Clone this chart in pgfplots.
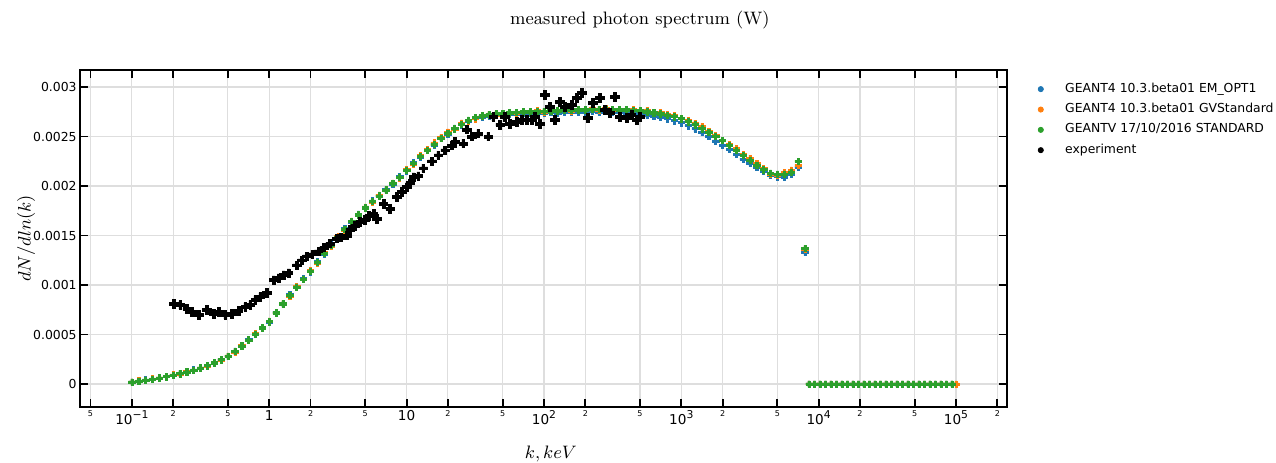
\documentclass[border=0pt]{standalone}
\usepackage{pgfplots}
\pgfplotsset{compat=1.18}
\usepackage{pgfplotstable}
\usepackage{fontspec}
\newfontfamily\vf{DejaVu Sans}
\definecolor{c1}{HTML}{1F77B4}
\definecolor{c2}{HTML}{FF7F0E}
\definecolor{c3}{HTML}{2CA02C}
\newcommand{\mn}{\fontsize{4}{4.5}\selectfont}
\newcommand{\sps}[1]{\raisebox{0.48em}{\fontsize{5.4}{6}\selectfont #1}}
\pgfdeclareplotmark{P}{%
  \pgfpathmoveto{\pgfqpoint{-0.333\pgfplotmarksize}{-\pgfplotmarksize}}%
  \pgfpathlineto{\pgfqpoint{-0.333\pgfplotmarksize}{-0.333\pgfplotmarksize}}%
  \pgfpathlineto{\pgfqpoint{-\pgfplotmarksize}{-0.333\pgfplotmarksize}}%
  \pgfpathlineto{\pgfqpoint{-\pgfplotmarksize}{0.333\pgfplotmarksize}}%
  \pgfpathlineto{\pgfqpoint{-0.333\pgfplotmarksize}{0.333\pgfplotmarksize}}%
  \pgfpathlineto{\pgfqpoint{-0.333\pgfplotmarksize}{\pgfplotmarksize}}%
  \pgfpathlineto{\pgfqpoint{0.333\pgfplotmarksize}{\pgfplotmarksize}}%
  \pgfpathlineto{\pgfqpoint{0.333\pgfplotmarksize}{0.333\pgfplotmarksize}}%
  \pgfpathlineto{\pgfqpoint{\pgfplotmarksize}{0.333\pgfplotmarksize}}%
  \pgfpathlineto{\pgfqpoint{\pgfplotmarksize}{-0.333\pgfplotmarksize}}%
  \pgfpathlineto{\pgfqpoint{0.333\pgfplotmarksize}{-0.333\pgfplotmarksize}}%
  \pgfpathlineto{\pgfqpoint{0.333\pgfplotmarksize}{-\pgfplotmarksize}}%
  \pgfpathclose
  \pgfusepathqfillstroke}

\pgfplotstableread{
x b o g
1.0000e-1 0.20e-4 0.20e-4 0.20e-4
1.1220e-1 0.29e-4 0.31e-4 0.30e-4
1.2589e-1 0.41e-4 0.40e-4 0.40e-4
1.4125e-1 0.49e-4 0.51e-4 0.50e-4
1.5849e-1 0.60e-4 0.62e-4 0.62e-4
1.7783e-1 0.76e-4 0.74e-4 0.75e-4
1.9953e-1 0.89e-4 0.92e-4 0.90e-4
2.2387e-1 1.06e-4 1.04e-4 1.05e-4
2.5119e-1 1.20e-4 1.23e-4 1.22e-4
2.8184e-1 1.42e-4 1.39e-4 1.40e-4
3.1623e-1 1.60e-4 1.63e-4 1.62e-4
3.5481e-1 1.87e-4 1.84e-4 1.86e-4
3.9811e-1 2.13e-4 2.17e-4 2.15e-4
4.4668e-1 2.48e-4 2.44e-4 2.46e-4
5.0119e-1 2.79e-4 2.83e-4 2.80e-4
5.6234e-1 3.32e-4 3.25e-4 3.28e-4
6.3096e-1 3.82e-4 3.88e-4 3.85e-4
7.0795e-1 4.50e-4 4.42e-4 4.45e-4
7.9433e-1 5.02e-4 5.10e-4 5.05e-4
8.9125e-1 5.70e-4 5.64e-4 5.68e-4
1.0000e0 6.27e-4 6.35e-4 6.30e-4
1.1220e0 7.25e-4 7.15e-4 7.20e-4
1.2589e0 8.05e-4 8.16e-4 8.10e-4
1.4125e0 9.02e-4 8.90e-4 8.95e-4
1.5849e0 9.76e-4 9.86e-4 9.80e-4
1.7783e0 10.66e-4 10.55e-4 10.60e-4
1.9953e0 11.35e-4 11.48e-4 11.40e-4
2.2387e0 12.36e-4 12.22e-4 12.30e-4
2.5119e0 13.15e-4 13.28e-4 13.20e-4
2.8184e0 14.07e-4 13.95e-4 14.00e-4
3.1623e0 14.75e-4 14.88e-4 14.80e-4
3.5481e0 15.68e-4 15.55e-4 15.60e-4
3.9811e0 16.35e-4 16.45e-4 16.40e-4
4.4668e0 17.16e-4 17.05e-4 17.10e-4
5.0119e0 17.75e-4 17.88e-4 17.80e-4
5.6234e0 18.50e-4 18.40e-4 18.45e-4
6.3096e0 18.96e-4 19.08e-4 19.00e-4
7.0795e0 19.66e-4 19.55e-4 19.60e-4
7.9433e0 20.20e-4 20.30e-4 20.25e-4
8.9125e0 20.96e-4 20.85e-4 20.90e-4
1.0000e1 21.55e-4 21.68e-4 21.60e-4
1.1220e1 22.36e-4 22.25e-4 22.30e-4
1.2589e1 22.95e-4 23.08e-4 23.00e-4
1.4125e1 23.66e-4 23.70e-4 23.60e-4
1.5849e1 24.15e-4 24.35e-4 24.20e-4
1.7783e1 24.85e-4 24.90e-4 24.80e-4
1.9953e1 25.25e-4 25.45e-4 25.30e-4
2.2387e1 25.85e-4 25.75e-4 25.80e-4
2.5119e1 26.20e-4 26.35e-4 26.25e-4
2.8184e1 26.55e-4 26.60e-4 26.65e-4
3.1623e1 26.85e-4 26.80e-4 26.95e-4
3.5481e1 26.95e-4 27.05e-4 27.10e-4
3.9811e1 27.10e-4 27.25e-4 27.20e-4
4.4668e1 27.15e-4 27.20e-4 27.30e-4
5.0119e1 27.20e-4 27.30e-4 27.35e-4
5.6234e1 27.25e-4 27.45e-4 27.40e-4
6.3096e1 27.30e-4 27.35e-4 27.45e-4
7.0795e1 27.35e-4 27.55e-4 27.50e-4
7.9433e1 27.40e-4 27.45e-4 27.50e-4
8.9125e1 27.35e-4 27.60e-4 27.50e-4
1.0000e2 27.40e-4 27.50e-4 27.55e-4
1.1220e2 27.45e-4 27.65e-4 27.60e-4
1.2589e2 27.40e-4 27.55e-4 27.60e-4
1.4125e2 27.45e-4 27.70e-4 27.65e-4
1.5849e2 27.50e-4 27.60e-4 27.70e-4
1.7783e2 27.45e-4 27.75e-4 27.70e-4
1.9953e2 27.50e-4 27.65e-4 27.70e-4
2.2387e2 27.55e-4 27.80e-4 27.75e-4
2.5119e2 27.50e-4 27.70e-4 27.75e-4
2.8184e2 27.55e-4 27.80e-4 27.75e-4
3.1623e2 27.50e-4 27.70e-4 27.75e-4
3.5481e2 27.45e-4 27.75e-4 27.70e-4
3.9811e2 27.40e-4 27.65e-4 27.70e-4
4.4668e2 27.40e-4 27.70e-4 27.65e-4
5.0119e2 27.30e-4 27.55e-4 27.60e-4
5.6234e2 27.20e-4 27.60e-4 27.50e-4
6.3096e2 27.05e-4 27.45e-4 27.40e-4
7.0795e2 26.95e-4 27.40e-4 27.30e-4
7.9433e2 26.80e-4 27.20e-4 27.15e-4
8.9125e2 26.60e-4 27.10e-4 27.00e-4
1.0000e3 26.40e-4 26.85e-4 26.80e-4
1.1220e3 26.10e-4 26.60e-4 26.50e-4
1.2589e3 25.80e-4 26.30e-4 26.20e-4
1.4125e3 25.40e-4 26.00e-4 25.80e-4
1.5849e3 25.00e-4 25.50e-4 25.40e-4
1.7783e3 24.55e-4 25.10e-4 25.00e-4
1.9953e3 24.10e-4 24.60e-4 24.60e-4
2.2387e3 23.70e-4 24.20e-4 24.10e-4
2.5119e3 23.20e-4 23.80e-4 23.60e-4
2.8184e3 22.70e-4 23.20e-4 23.10e-4
3.1623e3 22.30e-4 22.80e-4 22.60e-4
3.5481e3 21.90e-4 22.30e-4 22.10e-4
3.9811e3 21.50e-4 21.80e-4 21.65e-4
4.4668e3 21.10e-4 21.20e-4 21.30e-4
5.0119e3 20.95e-4 21.10e-4 21.20e-4
5.6234e3 20.90e-4 21.35e-4 21.20e-4
6.3096e3 21.20e-4 21.60e-4 21.40e-4
7.0795e3 21.90e-4 22.10e-4 22.50e-4
7.9433e3 13.30e-4 13.60e-4 13.70e-4
8.5114e3 0 0 0
9.3325e3 0 0 0
1.0233e4 0 0 0
1.1220e4 0 0 0
1.2303e4 0 0 0
1.3490e4 0 0 0
1.4791e4 0 0 0
1.6218e4 0 0 0
1.7783e4 0 0 0
1.9498e4 0 0 0
2.1380e4 0 0 0
2.3442e4 0 0 0
2.5704e4 0 0 0
2.8184e4 0 0 0
3.0903e4 0 0 0
3.3884e4 0 0 0
3.7154e4 0 0 0
4.0738e4 0 0 0
4.4668e4 0 0 0
4.8978e4 0 0 0
5.3703e4 0 0 0
5.8884e4 0 0 0
6.4565e4 0 0 0
7.0795e4 0 0 0
7.7625e4 0 0 0
8.5114e4 0 0 0
9.3325e4 0 0 0
1.0000e5 nan 0 nan
}\simtable

\pgfplotstableread{
x y
0.2014 8.1e-4
0.2253 8.0e-4
0.2520 7.6e-4
0.2741 7.3e-4
0.3060 7.0e-4
0.3522 7.5e-4
0.3934 7.1e-4
0.4279 7.3e-4
0.4786 7.0e-4
0.5355 7.1e-4
0.5980 7.4e-4
0.6689 7.8e-4
0.7274 8.0e-4
0.7910 8.5e-4
0.8602 8.8e-4
0.9622 9.2e-4
1.075 10.5e-4
1.169 10.7e-4
1.271 11.0e-4
1.382 11.2e-4
1.591 12.0e-4
1.729 12.5e-4
1.880 12.9e-4
2.055 13.1e-4
2.283 13.4e-4
2.512 13.8e-4
2.778 14.2e-4
3.108 14.7e-4
3.340 14.8e-4
3.674 15.0e-4
3.882 15.6e-4
4.222 16.0e-4
4.590 16.4e-4
4.991 16.6e-4
5.337 17.0e-4
5.735 17.2e-4
6.071 16.7e-4
6.783 18.2e-4
7.586 17.7e-4
8.487 18.9e-4
9.228 19.4e-4
10.03 19.9e-4
10.60 20.3e-4
11.21 20.9e-4
12.18 21.0e-4
13.25 21.8e-4
15.25 22.5e-4
17.03 23.1e-4
19.05 23.6e-4
21.32 24.1e-4
22.53 24.5e-4
25.89 24.3e-4
27.41 25.7e-4
29.81 25.0e-4
33.29 25.3e-4
39.35 25.0e-4
42.80 27.0e-4
47.86 26.2e-4
52.04 27.0e-4
56.57 26.3e-4
63.32 26.5e-4
68.83 26.7e-4
74.85 26.7e-4
81.39 26.7e-4
86.01 27.0e-4
93.52 26.3e-4
101.7 29.2e-4
110.6 28.0e-4
120.2 26.7e-4
130.7 28.5e-4
142.1 28.0e-4
159.0 28.2e-4
172.9 28.9e-4
188.0 29.4e-4
208.9 26.9e-4
227.2 28.4e-4
255.4 28.9e-4
277.7 27.7e-4
302.0 27.4e-4
328.5 29.0e-4
357.1 27.0e-4
399.5 26.9e-4
434.4 27.2e-4
472.4 26.7e-4
499.2 27.0e-4
}\exptable

\begin{document}
\begin{tikzpicture}
\useasboundingbox (-40pt,-27.5pt) rectangle (598pt,203.5pt);
\begin{axis}[
  at={(0,0)}, anchor=south west,
  scale only axis, width=463.5pt, height=168.5pt,
  xmode=log, log basis x=10,
  xmin=0.0419, xmax=2.35e5,
  ymin=-0.000232, ymax=0.003172,
  xtick={0.05,0.1,0.2,0.5,1,2,5,10,20,50,100,200,500,1000,2000,5000,10000,20000,50000,100000,200000},
  xticklabels={{\mn 5},{10\sps{−1}},{\mn 2},{\mn 5},{1},{\mn 2},{\mn 5},{10},{\mn 2},{\mn 5},{10\sps{2}},{\mn 2},{\mn 5},{10\sps{3}},{\mn 2},{\mn 5},{10\sps{4}},{\mn 2},{\mn 5},{10\sps{5}},{\mn 2}},
  minor x tick num=0,
  ytick={0,0.0005,0.001,0.0015,0.002,0.0025,0.003},
  yticklabels={0,0.0005,0.001,0.0015,0.002,0.0025,0.003},
  scaled y ticks=false,
  xticklabel style={font=\vf\fontsize{6.8}{7.5}\selectfont, inner sep=1.5pt},
  yticklabel style={font=\vf\fontsize{6.2}{7}\selectfont, inner sep=1.5pt},
  tick align=inside,
  major tick length=4pt,
  tick style={black, line width=0.9pt},
  axis line style={black, line width=1pt},
  grid=major,
  major grid style={line width=0.55pt, black!13},
  title={measured photon spectrum (W)},
  title style={at={(axis description cs:0.604,1.112)}, anchor=center, font=\fontsize{9}{10}\selectfont},
  xlabel={$k, keV$},
  xlabel style={at={(axis description cs:0.508,-0.138)}, anchor=center, font=\fontsize{9}{10}\selectfont},
  ylabel={$dN/dln(k)$},
  ylabel style={at={(axis description cs:-0.058,0.5)}, anchor=center, font=\fontsize{9}{10}\selectfont},
  legend cell align=left,
  legend image code/.code={\fill[#1] (0pt,0pt) circle (1.3pt);},
  legend style={draw=none, fill=none, at={(axis description cs:1.0263,0.9866)}, anchor=north west,
    font=\vf\fontsize{6.2}{7}\selectfont, row sep=0pt,
    /tikz/every odd column/.append style={column sep=8.7pt}},
]
\addplot[only marks, mark=P, color=c1, mark size=1.6pt, mark options={line width=0.3pt}] table[x=x, y=b] {\simtable};
\addlegendentry{GEANT4 10.3.beta01 EM\_OPT1}
\addplot[only marks, mark=P, color=c2, mark size=1.6pt, mark options={line width=0.3pt}] table[x=x, y=o] {\simtable};
\addlegendentry{GEANT4 10.3.beta01 GVStandard}
\addplot[only marks, mark=P, color=c3, mark size=1.6pt, mark options={line width=0.3pt}] table[x=x, y=g] {\simtable};
\addlegendentry{GEANTV 17/10/2016 STANDARD}
\addplot[only marks, mark=P, color=black, mark size=2.1pt, mark options={line width=0.3pt}] table[x=x, y=y] {\exptable};
\addlegendentry{experiment}
\end{axis}
\end{tikzpicture}
\end{document}
